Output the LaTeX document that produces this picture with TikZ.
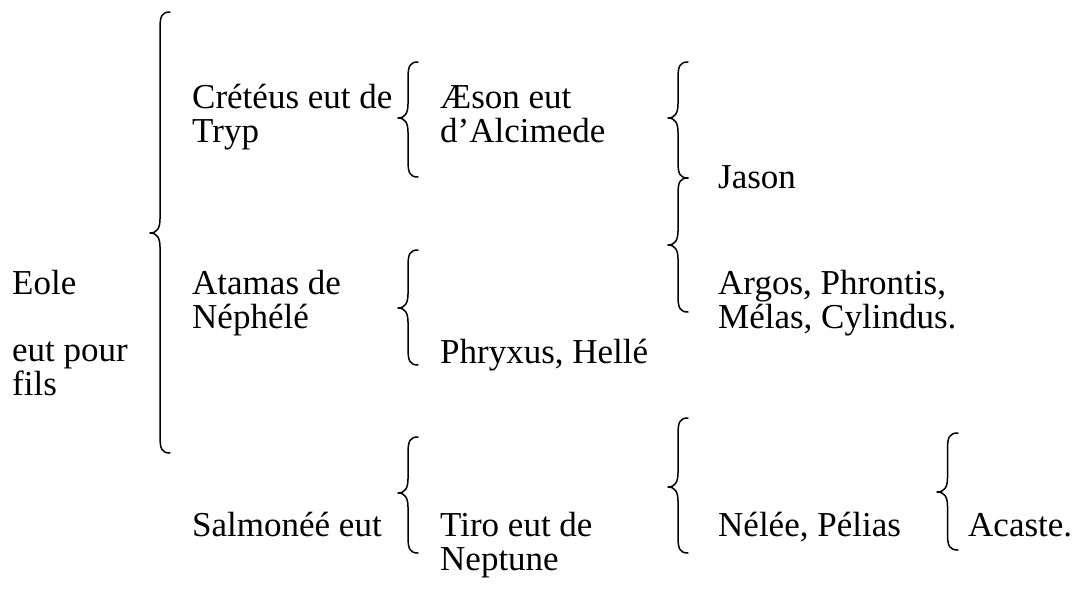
\documentclass[tikz,border=0pt]{standalone}
\usepackage{fontspec}
\setmainfont{Liberation Serif}
\tikzset{
  txt/.style={inner sep=0pt, anchor=base west, font=\fontsize{35}{38}\selectfont},
  bracestyle/.style={line width=1.5pt, line cap=round, line join=round}
}
\newcommand\curlybr[5]{%
  \pgfmathsetmacro\bxm{(#1+#2)/2}%
  \draw[bracestyle] (#2,#3) .. controls (\bxm+2,#3) and (\bxm,#3+4) .. (\bxm,#3+16)
    -- (\bxm,#4-14) .. controls (\bxm,#4-5) and (\bxm-3,#4) .. (#1,#4)
    .. controls (\bxm-3,#4) and (\bxm,#4+5) .. (\bxm,#4+14)
    -- (\bxm,#5-16) .. controls (\bxm,#5-4) and (\bxm+2,#5) .. (#2,#5);}
\begin{document}
\begin{tikzpicture}[x=1pt,y=-1pt]
\useasboundingbox (0,0) rectangle (1090,594);
% texts
\node[txt] (eole) at (12,294) {Eole};
\node[txt] (eutpour) at (12,361) {eut pour};
\node[txt] (fils) at (12,395) {fils};
\node[txt] (cret1) at (192,108) {Crétéus eut de};
\node[txt] (cret2) at (192,142) {Tryp};
\node[txt] (aeson1) at (440,108) {Æson eut};
\node[txt] (aeson2) at (440,142) {d’Alcimede};
\node[txt] (jason) at (718,188) {Jason};
\node[txt] (atam1) at (192,294) {Atamas de};
\node[txt] (atam2) at (192,328) {Néphélé};
\node[txt] (argos1) at (718,294) {Argos, Phrontis,};
\node[txt] (argos2) at (718,328) {Mélas, Cylindus.};
\node[txt] (phryx) at (440,363) {Phryxus, Hellé};
\node[txt] (salm) at (192,536) {Salmonéé eut};
\node[txt] (tiro1) at (440,536) {Tiro eut de};
\node[txt] (tiro2) at (440,570) {Neptune};
\node[txt] (nelee) at (718,536) {Nélée, Pélias};
\node[txt] (acaste) at (968,536) {Acaste.};
% braces
\curlybr{150}{170}{12}{233}{453}
\curlybr{398}{418}{62}{118}{177}
\curlybr{398}{418}{250}{308}{365}
\curlybr{398}{418}{437}{493}{553}
\curlybr{668}{688}{62}{118}{178}
\curlybr{668}{688}{178}{245}{312}
\curlybr{668}{688}{418}{487}{553}
\curlybr{937}{958}{433}{492}{550}
\end{tikzpicture}
\end{document}
